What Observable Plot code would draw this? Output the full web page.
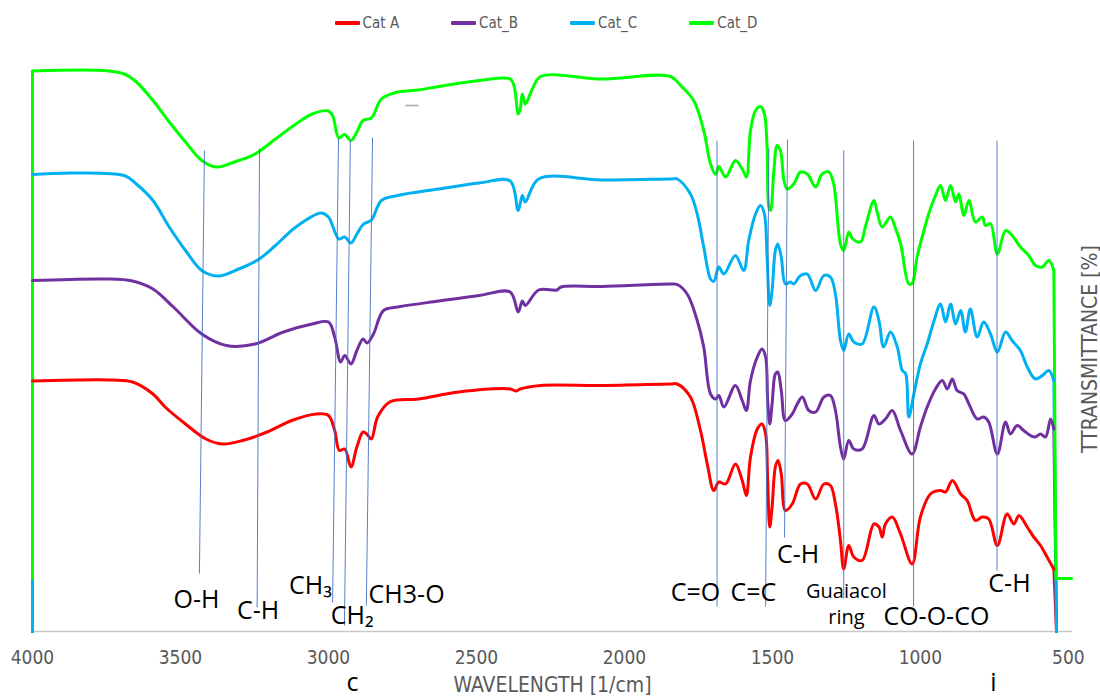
<!DOCTYPE html>
<html>
<head>
<meta charset="utf-8">
<script src="https://cdn.jsdelivr.net/npm/d3@7"></script>
<script src="https://cdn.jsdelivr.net/npm/@observablehq/plot@0.6"></script>
<style>
  html, body { margin: 0; padding: 0; background: #ffffff; }
  body { width: 1100px; height: 699px; overflow: hidden; font-family: "Liberation Sans Narrow", "DejaVu Sans Condensed", "Roboto", sans-serif; }
  #legend { height: 45px; display: flex; justify-content: center; align-items: center; gap: 52px; padding-right: 8px; box-sizing: border-box; }
  .item { display: flex; align-items: center; gap: 3px; color: #595959; font-size: 15px; }
  .sw { width: 25px; height: 4px; border-radius: 1px; }
  #chart svg { display: block; }
</style>
</head>
<body>
<div id="legend"></div>
<div id="chart"></div>
<script>
// ---- Data (wavenumber [1/cm], transmittance in arbitrary stacked units) ----
const seriesNames = ["Cat A", "Cat_B", "Cat_C", "Cat_D"];
const seriesColors = ["#FF0000", "#7030A0", "#00B0F0", "#00FF00"];
const xTicks = [4000, 3500, 3000, 2500, 2000, 1500, 1000, 500];

const catA = [
  [4000,50.1],[3731,50.3],[3662,49.9],[3593,47.5],[3552,44.9],[3483,41.5],[3414,38.5],[3359,37.5],
  [3290,38.2],[3207,39.9],[3124,42.2],[3041,43.5],[3000,43.2],[2979,40.2],[2963,36.2],[2945,36.5],[2924,32.9],
  [2904,36.9],[2883,39.9],[2869,39.4],[2855,38.5],[2834,42.9],[2793,45.9],[2696,46.5],[2559,47.9],[2386,48.5],
  [2366,48.1],[2352,48.5],[2283,49.2],[2076,49.2],[1844,49.5],[1822,49.5],[1777,46.9],[1743,40.2],[1720,33.5],
  [1698,28.2],[1681,29.9],[1658,29.5],[1625,33.5],[1602,30.2],[1588,27.2],[1574,34.9],[1551,40.5],[1535,41.5],
  [1523,39.5],[1516,30.2],[1509,20.9],[1501,24.9],[1490,32.9],[1481,34.2],[1470,31.5],[1456,24.2],[1433,25.5],
  [1405,29.5],[1382,29.5],[1354,26.5],[1326,29.5],[1304,29.2],[1287,25.5],[1270,18.2],[1259,12.5],[1242,17.2],
  [1225,14.9],[1197,14.2],[1157,21.5],[1140,20.9],[1129,18.9],[1118,21.5],[1095,22.9],[1067,19.5],[1028,13.5],
  [1000,22.9],[966,27.5],[932,28.2],[915,27.9],[892,30.2],[864,27.5],[842,26.2],[814,22.2],[791,22.9],[769,22.5],
  [740,17.2],[707,23.5],[684,21.5],[667,23.2],[639,20.9],[617,18.9],[594,17.2],[572,14.9],[549,12.5]
];
const catB = [
  [4000,70.2],[3758,70.5],[3662,70.1],[3593,68.5],[3524,64.9],[3428,59.5],[3345,57.2],[3248,57.5],
  [3152,59.9],[3055,61.5],[3000,61.9],[2979,58.9],[2959,53.9],[2945,55.2],[2924,53.5],[2904,56.2],[2883,58.5],
  [2869,57.7],[2848,59.5],[2814,64.2],[2766,64.9],[2627,66.1],[2490,67.2],[2386,67.9],[2359,63.9],[2345,66.1],
  [2335,65.2],[2290,68.3],[2228,68.3],[2214,68.9],[2076,69.0],[1844,69.5],[1822,69.4],[1788,67.5],[1754,62.2],
  [1732,56.9],[1709,47.5],[1692,46.5],[1681,47.2],[1664,44.9],[1625,49.2],[1602,46.2],[1588,44.2],[1574,50.2],
  [1551,54.9],[1535,56.5],[1523,54.9],[1516,46.2],[1509,41.5],[1501,45.5],[1490,51.5],[1482,51.9],[1470,48.2],
  [1456,42.2],[1433,43.5],[1416,45.5],[1399,46.9],[1377,44.2],[1354,43.9],[1326,46.9],[1304,47.2],[1287,44.2],
  [1270,36.9],[1259,34.5],[1242,38.2],[1225,36.5],[1197,36.5],[1157,43.2],[1140,41.5],[1118,42.5],[1095,44.2],
  [1067,40.2],[1028,35.5],[1000,40.9],[977,44.9],[949,48.5],[926,50.2],[909,48.5],[892,50.5],[876,48.2],[853,47.5],
  [836,45.5],[808,42.5],[786,42.9],[769,41.9],[740,35.5],[712,41.9],[696,39.5],[673,41.2],[651,40.2],[628,39.2],
  [611,38.9],[594,39.5],[577,38.9],[560,42.5],[549,40.5]
];
const catC = [
  [4000,91.4],[3690,91.2],[3649,89.5],[3593,86.2],[3538,80.9],[3483,76.2],[3428,72.2],[3372,71.1],
  [3303,72.5],[3234,74.5],[3179,77.2],[3110,80.9],[3025,83.7],[3000,82.9],[2965,78.5],[2945,78.9],[2924,77.7],
  [2904,79.5],[2883,81.4],[2855,82.3],[2821,86.2],[2766,87.2],[2627,88.5],[2490,89.7],[2386,90.1],[2359,84.2],
  [2345,87.2],[2335,85.9],[2290,90.5],[2076,90.3],[1844,90.5],[1822,90.5],[1777,87.5],[1754,83.5],[1732,76.9],
  [1709,70.5],[1698,70.0],[1681,72.9],[1664,71.5],[1625,75.2],[1597,72.2],[1580,78.2],[1557,83.5],[1540,85.2],
  [1527,83.5],[1518,74.9],[1509,65.2],[1501,68.2],[1490,76.2],[1482,77.5],[1470,74.9],[1456,69.5],[1439,69.9],
  [1428,69.5],[1405,71.2],[1382,71.5],[1354,68.2],[1326,71.2],[1304,70.9],[1287,67.5],[1270,58.2],[1259,56.2],
  [1242,59.5],[1225,57.9],[1197,57.5],[1157,64.9],[1140,62.2],[1124,56.9],[1101,59.9],[1078,56.9],[1061,52.2],
  [1050,51.6],[1039,42.9],[1022,47.5],[1000,53.5],[977,57.5],[955,61.9],[932,65.5],[915,61.9],[898,65.5],[881,61.5],
  [864,64.2],[848,59.9],[831,64.5],[808,58.9],[786,61.9],[763,59.5],[740,55.9],[712,59.9],[690,58.2],[662,56.2],
  [639,52.9],[611,50.5],[588,51.2],[566,52.2],[549,50.2]
];
const catD = [
  [4000,112.1],[3758,112.2],[3690,111.5],[3649,109.9],[3593,106.2],[3538,101.9],[3483,97.9],[3428,94.2],
  [3379,92.9],[3318,93.9],[3248,95.5],[3179,98.5],[3110,101.5],[3055,103.5],[3000,104.1],[2986,103.2],[2965,98.7],
  [2945,99.4],[2924,98.2],[2904,99.9],[2883,102.2],[2855,102.7],[2821,106.5],[2766,107.9],[2696,108.3],[2627,109.0],
  [2490,110.2],[2386,110.5],[2372,108.9],[2359,103.5],[2352,104.5],[2345,107.5],[2335,105.5],[2311,108.5],[2283,111.0],
  [2076,110.5],[1844,111.0],[1810,109.2],[1766,106.2],[1732,100.2],[1709,93.5],[1692,91.4],[1681,93.0],[1658,90.9],
  [1625,94.2],[1602,92.5],[1588,90.9],[1574,100.2],[1557,104.2],[1540,105.0],[1527,103.5],[1518,96.9],[1512,84.9],
  [1506,84.2],[1495,92.2],[1484,97.2],[1473,96.2],[1461,90.2],[1450,88.5],[1428,89.5],[1405,91.9],[1382,91.5],
  [1354,88.9],[1332,91.5],[1309,91.9],[1293,89.5],[1270,77.5],[1259,76.2],[1242,79.9],[1230,78.6],[1202,77.9],
  [1186,80.9],[1157,86.2],[1146,83.9],[1129,80.9],[1101,82.9],[1084,80.6],[1067,77.6],[1039,69.5],[1028,69.6],
  [1011,74.9],[994,78.9],[972,83.5],[949,87.2],[932,89.2],[915,86.2],[898,89.2],[881,85.9],[870,87.5],[853,83.2],
  [836,86.2],[814,81.9],[791,82.9],[780,81.2],[763,81.6],[740,75.5],[712,80.2],[690,79.2],[662,76.9],[634,75.2],
  [611,73.2],[588,72.9],[566,74.2],[549,72.2]
];
// Instrument artefacts at both ends of each spectrum (drop to the baseline)
const startPoints = [[[4000,0]], [[4000,0]], [[4000,0]], [[4000,10.6]]];
const endPoints   = [[[540,0]], [[540,0]], [[540,0]], [[542,10.6],[489,10.6]]];

// Band marker lines (top and bottom ends)
const bandTopWn    = [3419, 3233, 2966, 2926, 2851, 1687, 1512, 1449, 1259, 1023, 741];
const bandTopT     = [96.2, 96.6, 98.6, 98.2, 98.8, 98.2, 96.6, 98.4, 96.2, 98.2, 98.2];
const bandBottomWn = [3436, 3241, 2986, 2946, 2872, 1687, 1523, 1459, 1259, 1023, 741];
const bandBottomT  = [11.6, 4.8, 5.8, 1.2, 5.2, 5.0, 5.0, 18.8, 6.6, 5.0, 12.2];

// Band labels
const labelText = ["O-H", "C-H", "CH\u2083", "CH\u2082", "CH3-O", "C=O", "C=C", "C-H", "CO-O-CO", "C-H", "c", "i"];
const labelWn   = [3446, 3238, 3061, 2920, 2736, 1760, 1564, 1413, 946, 699, 2919, 753];
const labelT    = [6.4, 4.1, 9.1, 3.1, 7.4, 7.7, 7.7, 15.4, 2.9, 9.6, -10.2, -10.2];
const smallLabelText = ["Guaiacol", "ring"];
const smallLabelWn   = [1250, 1250];
const smallLabelT    = [7.9, 2.7];

// small grey dash near 2700
const dashWn = [2740, 2696];
const dashT = [105.2, 105.2];

// ---- Build tables ----
const allSeries = [catA, catB, catC, catD];
const mainData = [];
const edgeData = [];
allSeries.forEach((s, i) => {
  s.forEach(([wn, t]) => mainData.push({series: seriesNames[i], wn, t}));
  const startSeg = [...startPoints[i], s[0]];
  const endSeg = [s[s.length - 1], ...endPoints[i]];
  startSeg.forEach(([wn, t]) => edgeData.push({series: seriesNames[i], seg: seriesNames[i] + "-s", wn, t}));
  endSeg.forEach(([wn, t]) => edgeData.push({series: seriesNames[i], seg: seriesNames[i] + "-e", wn, t}));
});
const bands = bandTopWn.map((w, i) => ({x1: w, y1: bandTopT[i], x2: bandBottomWn[i], y2: bandBottomT[i]}));
const labels = labelText.map((t, i) => ({text: t, wn: labelWn[i], t: labelT[i]}));
const smallLabels = smallLabelText.map((t, i) => ({text: t, wn: smallLabelWn[i], t: smallLabelT[i]}));

// ---- Legend ----
const legend = document.getElementById("legend");
seriesNames.forEach((n, i) => {
  const it = document.createElement("div");
  it.className = "item";
  const sw = document.createElement("div");
  sw.className = "sw";
  sw.style.background = seriesColors[i];
  const lb = document.createElement("span");
  lb.textContent = n;
  it.appendChild(sw); it.appendChild(lb);
  legend.appendChild(it);
});

const narrow = '"Liberation Sans Narrow", "DejaVu Sans Condensed", "Roboto", sans-serif';
const annoFont = '"Open Sans", "Noto Sans", "DejaVu Sans", sans-serif';

const chart = Plot.plot({
  width: 1100,
  height: 654,
  marginTop: 5,
  marginBottom: 68,
  marginLeft: 32,
  marginRight: 28,
  style: {background: "#ffffff", overflow: "visible"},
  x: {domain: [4000, 486], range: [32, 1072]},
  y: {domain: [0, 116.2], axis: null},
  color: {domain: seriesNames, range: seriesColors},
  marks: [
    Plot.ruleY([0], {stroke: "#c8c8c8", strokeWidth: 1.5}),
    Plot.axisX({ticks: xTicks, tickSize: 0, tickPadding: 19, tickFormat: d3.format("d"),
      fontSize: 19, fill: "#595959", fontFamily: narrow, label: null}),
    Plot.line(edgeData, {x: "wn", y: "t", z: "seg", stroke: "series", strokeWidth: 3, strokeLinejoin: "round"}),
    Plot.line(mainData, {x: "wn", y: "t", z: "series", stroke: "series", strokeWidth: 3, curve: "catmull-rom", strokeLinejoin: "round", strokeLinecap: "round"}),
    Plot.link(bands, {x1: "x1", y1: "y1", x2: "x2", y2: "y2", stroke: "#4472C4", strokeWidth: 1, strokeOpacity: 0.9}),
    Plot.link([{x1: dashWn[0], y1: dashT[0], x2: dashWn[1], y2: dashT[1]}], {x1: "x1", y1: "y1", x2: "x2", y2: "y2", stroke: "#a6a6a6", strokeWidth: 1.5}),
    Plot.text(labels, {x: "wn", y: "t", text: "text", fontSize: 25, fill: "#000000", fontFamily: annoFont}),
    Plot.text(smallLabels, {x: "wn", y: "t", text: "text", fontSize: 20, fill: "#000000", fontFamily: annoFont}),
    Plot.text(["WAVELENGTH [1/cm]"], {frameAnchor: "bottom", textAnchor: "middle", dy: 60, fontSize: 21, fill: "#595959", fontFamily: narrow}),
    Plot.text(["TTRANSMITTANCE [%]"], {frameAnchor: "right", textAnchor: "middle", rotate: -90, dx: 18, dy: 8, fontSize: 21, fill: "#595959", fontFamily: narrow})
  ]
});
document.getElementById("chart").appendChild(chart);
</script>
</body>
</html>
